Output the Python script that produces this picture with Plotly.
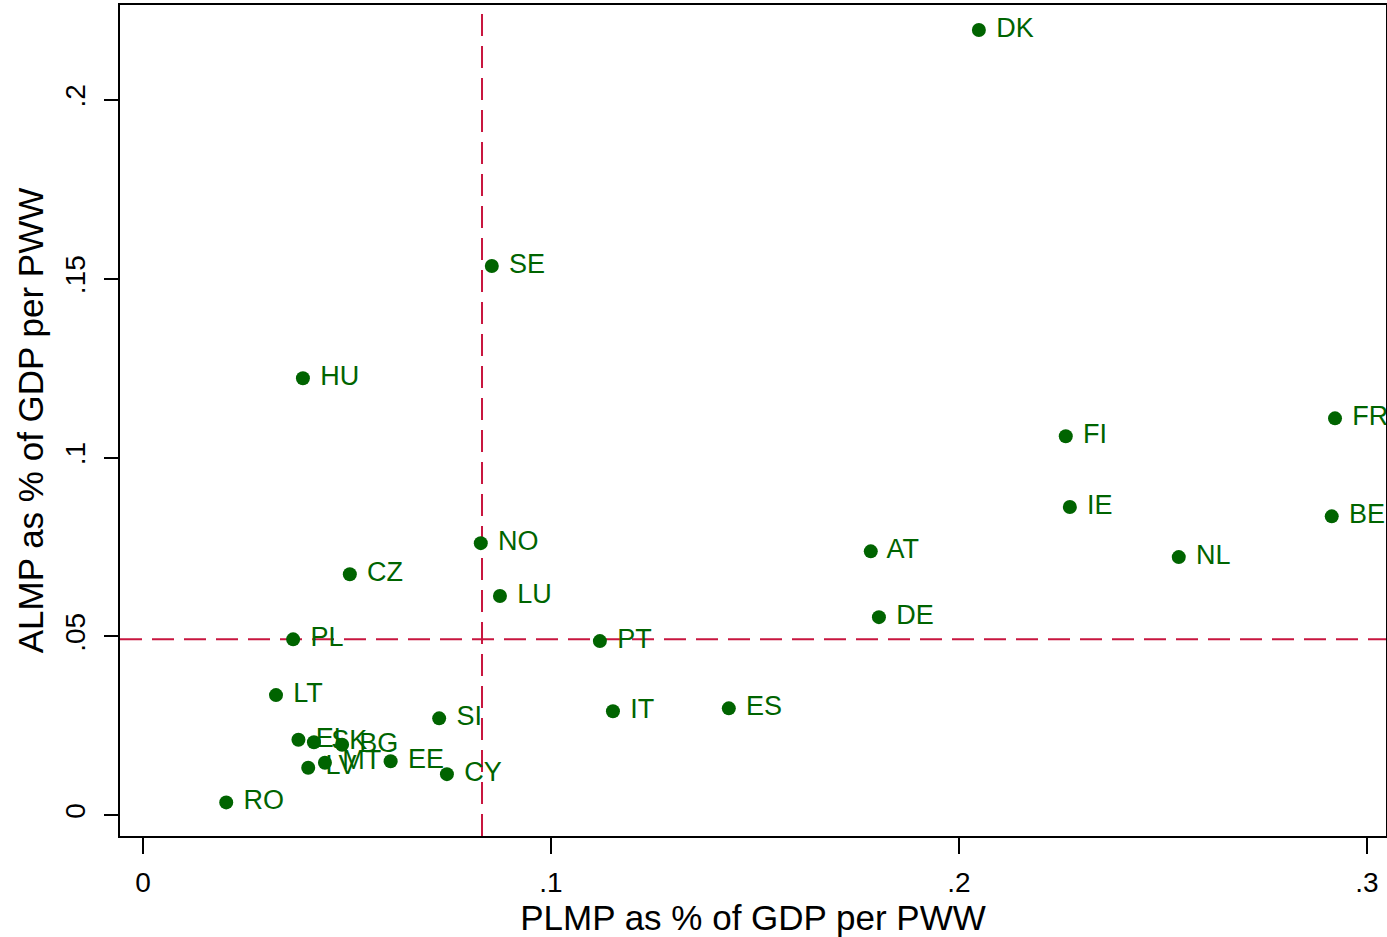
import plotly.graph_objects as go

# Country codes and values
countries = ["DK", "SE", "HU", "FI", "FR", "IE", "BE", "NL", "AT", "NO", "CZ", "LU",
             "DE", "PL", "PT", "LT", "SI", "IT", "ES", "EL", "SK", "BG", "LV", "MT",
             "EE", "CY", "RO"]
plmp = [0.2049, 0.0855, 0.0392, 0.2262, 0.2922, 0.2272, 0.2914, 0.2539, 0.1784, 0.0828,
        0.0507, 0.0875, 0.1804, 0.0368, 0.1120, 0.0326, 0.0726, 0.1152, 0.1436, 0.0381,
        0.0419, 0.0488, 0.0405, 0.0446, 0.0607, 0.0745, 0.0204]
almp = [0.2196, 0.1536, 0.1222, 0.1060, 0.1110, 0.0862, 0.0836, 0.0722, 0.0738, 0.0761,
        0.0674, 0.0613, 0.0554, 0.0492, 0.0487, 0.0336, 0.0271, 0.0291, 0.0299, 0.0211,
        0.0204, 0.0197, 0.0133, 0.0147, 0.0151, 0.0115, 0.0036]

mean_plmp = 0.0831
mean_almp = 0.0492

x_ticks = [0, 0.1, 0.2, 0.3]
x_ticklabels = ["0", ".1", ".2", ".3"]
y_ticks = [0, 0.05, 0.1, 0.15, 0.2]
y_ticklabels = ["0", ".05", ".1", ".15", ".2"]

GREEN = "#006400"
RED = "#C8163F"
FONT = "Liberation Sans, Arial, sans-serif"

labels = [" " + c for c in countries]

fig = go.Figure()
fig.add_trace(go.Scatter(
    x=plmp, y=almp, mode="markers+text", text=labels,
    textposition="middle right",
    marker=dict(color=GREEN, size=14),
    textfont=dict(color=GREEN, size=27, family=FONT),
    cliponaxis=True, showlegend=False,
))

fig.add_shape(type="line", xref="x", yref="paper", x0=mean_plmp, x1=mean_plmp, y0=0, y1=1,
              line=dict(color=RED, width=2, dash="22px,10px"), layer="below")
fig.add_shape(type="line", xref="paper", yref="y", x0=0, x1=1, y0=mean_almp, y1=mean_almp,
              line=dict(color=RED, width=2, dash="22px,10px"), layer="below")

fig.update_layout(
    width=1387, height=937,
    margin=dict(l=120, r=1, t=5, b=101),
    paper_bgcolor="white", plot_bgcolor="white",
    font=dict(family=FONT, color="black"),
)
fig.update_xaxes(
    range=[-0.00564, 0.3047], tickvals=x_ticks, ticktext=x_ticklabels,
    showgrid=False, zeroline=False, showline=True, mirror=True, automargin=False,
    linecolor="black", linewidth=2, ticks="outside", ticklen=16, tickwidth=2,
    tickcolor="black", tickfont=dict(size=28), ticklabelstandoff=4,
    title=dict(text="PLMP as % of GDP per PWW", font=dict(size=35), standoff=0),
)
fig.update_yaxes(
    range=[-0.0058, 0.2266], tickvals=y_ticks, ticktext=y_ticklabels,
    showgrid=False, zeroline=False, showline=True, mirror=True, automargin=False,
    linecolor="black", linewidth=2, ticks="outside", ticklen=14, tickwidth=2,
    tickcolor="black", tickfont=dict(size=28), tickangle=-90, ticklabelstandoff=8,
    title=dict(text="ALMP as % of GDP per PWW", font=dict(size=35), standoff=6),
)

fig.write_html("out.html", config={"displayModeBar": False},
               post_script="document.body.style.margin='0';")
